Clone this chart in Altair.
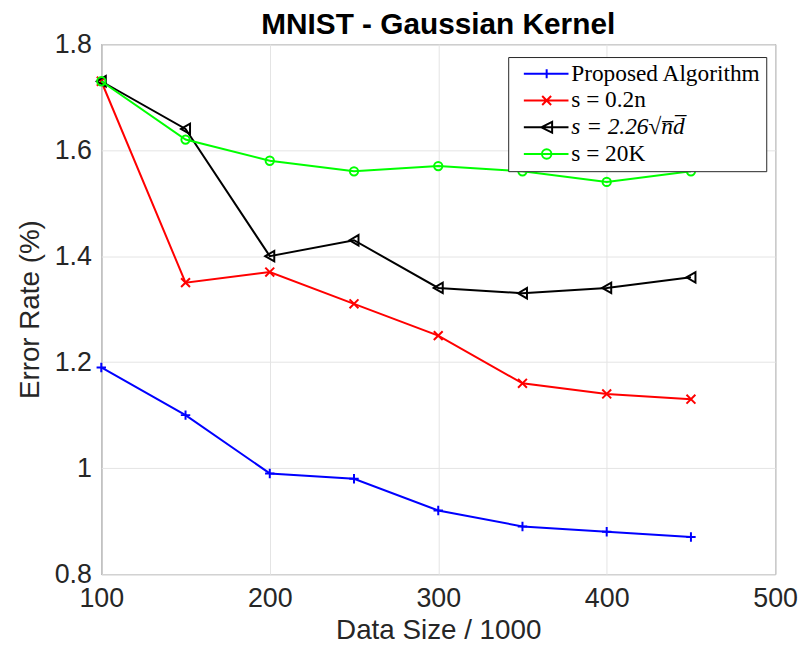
import json
import altair as alt
import pandas as pd

# ---- data ----
data_sizes = [100, 150, 200, 250, 300, 350, 400, 450]
proposed = [1.19, 1.10, 0.99, 0.98, 0.92, 0.89, 0.88, 0.87]
s_02n = [1.73, 1.35, 1.37, 1.31, 1.25, 1.16, 1.14, 1.13]
s_sqrt = [1.73, 1.64, 1.40, 1.43, 1.34, 1.33, 1.34, 1.36]
s_20k = [1.73, 1.62, 1.58, 1.56, 1.57, 1.56, 1.54, 1.56]

series_names = ["Proposed Algorithm", "s = 0.2n", "s = 2.26\u221an\u0305d\u0305", "s = 20K"]
series_values = [proposed, s_02n, s_sqrt, s_20k]
series_colors = ["#0000ff", "#ff0000", "#000000", "#00ff00"]

x_ticks = [100, 200, 300, 400, 500]
y_ticks = [0.8, 1.0, 1.2, 1.4, 1.6, 1.8]

rows = []
for name, vals in zip(series_names, series_values):
    for xs, v in zip(data_sizes, vals):
        rows.append({"size": xs, "rate": v, "series": name})
df = pd.DataFrame(rows)

# marker styles
marker_shapes = ["M-1,0H1M0,-1V1", "M-1,-1L1,1M-1,1L1,-1", "triangle-left", "circle"]
marker_sizes = [90, 80, 110, 70]

# legend symbols: line with marker in the middle
L = "M-0.2,0H8.8"
legend_paths = [
    L + "M4.4,-0.9V0.9",
    L + "M3.5,-0.9L5.3,0.9M3.5,0.9L5.3,-0.9",
    L + "M3.3,0L5.5,-1.1L5.5,1.1Z",
    L + "M3.45,0A0.95,0.95 0 1,0 5.35,0A0.95,0.95 0 1,0 3.45,0",
]
names_js = json.dumps(series_names, ensure_ascii=False)
paths_js = json.dumps(legend_paths)
shape_expr = f"{paths_js}[indexof({names_js}, datum.value)]"
style_expr = f"indexof({names_js}, datum.value) == 2 ? 'italic' : 'normal'"

legend = alt.Legend(
    title=None,
    orient="none",
    legendX=410,
    legendY=13,
    fillColor="white",
    strokeColor="#262626",
    padding=5,
    rowPadding=2,
    labelFont="Liberation Serif",
    labelFontSize=23.5,
    labelFontStyle=alt.ExprRef(style_expr),
    labelColor="black",
    labelOffset=35,
    labelLimit=400,
    symbolSize=100,
    symbolStrokeWidth=2,
    symbolFillColor="transparent",
    symbolType=alt.ExprRef(shape_expr),
)

color_scale = alt.Scale(domain=series_names, range=series_colors)
xenc = alt.X(
    "size:Q",
    scale=alt.Scale(domain=[100, 500], nice=False, zero=False),
    axis=alt.Axis(values=x_ticks, title="Data Size / 1000"),
)
yenc = alt.Y(
    "rate:Q",
    scale=alt.Scale(domain=[0.8, 1.8], nice=False, zero=False),
    axis=alt.Axis(values=y_ticks, format="~g", title="Error Rate (%)"),
)

layers = []
for i, name in enumerate(series_names):
    base = (
        alt.Chart(df)
        .transform_filter(alt.datum.series == name)
        .encode(x=xenc, y=yenc, color=alt.Color("series:N", scale=color_scale, legend=legend))
    )
    layers.append(base.mark_line(strokeWidth=2))
    layers.append(
        base.mark_point(shape=marker_shapes[i], size=marker_sizes[i], filled=False, strokeWidth=2, opacity=1)
    )

chart = (
    alt.layer(*layers)
    .properties(
        width=679,
        height=534,
        autosize=alt.AutoSizeParams(type="none"),
        padding={"left": 94, "top": 34, "right": 24, "bottom": 70},
        title=alt.TitleParams(
            "MNIST - Gaussian Kernel",
            font="Liberation Sans",
            fontSize=30,
            fontWeight="bold",
            color="black",
            anchor="middle",
            frame="group",
            baseline="alphabetic",
            offset=0,
            dy=34,
        ),
    )
    .configure_view(stroke="#333333", strokeWidth=1)
    .configure_axis(
        domain=False,
        ticks=False,
        grid=True,
        gridColor="#e4e4e4",
        gridWidth=1,
        labelFont="Liberation Sans",
        labelFontSize=27,
        labelColor="#262626",
        titleFont="Liberation Sans",
        titleFontSize=28,
        titleFontWeight="normal",
        titleColor="#262626",
        labelFlush=False,
        labelOverlap=False,
    )
    .configure_axisX(labelPadding=12, titlePadding=5)
    .configure_axisY(labelPadding=10, titlePadding=10)
)

chart.save("out.html", embed_options={"renderer": "svg", "actions": False})
